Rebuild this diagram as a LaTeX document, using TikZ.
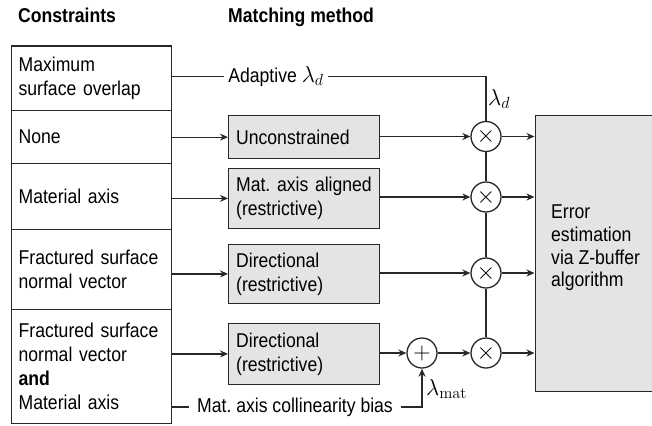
\RequirePackage{fix-cm}
\documentclass[tikz,border=0pt]{standalone}
\usepackage[no-math]{fontspec}
\setmainfont{Liberation Sans}[FakeStretch=0.88]
\usetikzlibrary{arrows.meta,calc}
\definecolor{linec}{RGB}{40,40,40}
\definecolor{boxfill}{RGB}{228,228,228}
\frenchspacing
\newcommand{\bigmath}[1]{{\fontsize{23}{24}\selectfont$#1$}}
\begin{document}
\begin{tikzpicture}[x=1pt,y=-1pt,
  font=\fontsize{20}{24}\selectfont,
  row/.style={draw=linec, line width=1.3pt, anchor=north west, minimum width=158pt,
    text width=145pt, inner xsep=7.5pt, inner ysep=0pt, align=left},
  mbox/.style={draw=linec, fill=boxfill, line width=1.3pt, anchor=north west,
    minimum width=149pt, text width=136pt, inner xsep=7.5pt, inner ysep=0pt, align=left},
  op/.style={circle, draw=linec, fill=white, line width=1.3pt, minimum size=30pt,
    inner sep=0pt, font=\fontsize{24}{24}\selectfont},
  conn/.style={draw=linec, line width=1.3pt},
  arr/.style={conn, -{Stealth[length=8pt,width=7pt]}},
  lbl/.style={inner sep=0pt}
]
\useasboundingbox (0,0) rectangle (652,425);

% headers
\node[lbl, anchor=base west] (h1) at (18,22.7) {\bfseries Constraints};
\node[lbl, anchor=base west] (h2) at (228,22.7) {\bfseries Matching method};

% constraint rows
\node[row, minimum height=64pt]   (rMax)  at (10.5,45.5)  {Maximum\\surface overlap};
\node[row, minimum height=53.5pt] (rNone) at (10.5,109.5) {None};
\node[row, minimum height=65.5pt] (rMat)  at (10.5,163)   {Material axis};
\node[row, minimum height=80.5pt] (rFrac) at (10.5,228.5) {Fractured surface\\normal vector};
\node[row, minimum height=114pt]  (rBoth) at (10.5,309)   {Fractured surface\\normal vector\\\textbf{and}\\Material axis};

% matching method boxes
\node[mbox, minimum height=43pt]   (unc)  at (228,115)   {Unconstrained};
\node[mbox, minimum height=59.5pt] (mat)  at (228,168)   {Mat.~axis~aligned\\(restrictive)};
\node[mbox, minimum height=59.5pt] (dir1) at (228,243.5) {Directional\\(restrictive)};
\node[mbox, minimum height=61.5pt] (dir2) at (228,322.5) {Directional\\(restrictive)};

% error box
\node[draw=linec, fill=boxfill, line width=1.3pt, anchor=north west,
  minimum width=118pt, minimum height=276pt, inner sep=0pt] (err) at (534.5,114.5) {};
\node[lbl, anchor=west, align=left, font=\fontsize{20}{22.6}\selectfont] (errt) at (551,248)
  {Error\\estimation\\via Z-buffer\\algorithm};

% operators
\node[op] (m1) at (486,136.5) {$\times$};
\node[op] (m2) at (486,197)   {$\times$};
\node[op] (m3) at (486,273)   {$\times$};
\node[op] (m4) at (486,353)   {$\times$};
\node[op] (pl) at (422,353)   {$+$};

% labels on connectors
\node[inner xsep=4pt, inner ysep=0pt] (ad) at (276,76.5) {Adaptive \bigmath{\lambda_d}};
\node[lbl, anchor=west] (ld) at (488,99) {\bigmath{\lambda_d}};
\node[inner xsep=8pt, inner ysep=0pt] (bias) at (295,407) {Mat. axis collinearity bias};
\node[lbl, anchor=west] (lm) at (426,389) {\bigmath{\lambda_{\mathrm{mat}}}};

% connectors
\draw[conn] (rMax.east |- ad.west) -- (ad.west);
\draw[conn] (ad.east) -| (m1.north);
\draw[conn] (m1.south) -- (m2.north);
\draw[conn] (m2.south) -- (m3.north);
\draw[conn] (m3.south) -- (m4.north);

\draw[arr] (rNone.east |- unc.west) -- (unc.west);
\draw[arr] (rMat.east |- mat.west) -- (mat.west);
\draw[arr] (rFrac.east |- dir1.west) -- (dir1.west);
\draw[arr] (rBoth.east |- dir2.west) -- (dir2.west);

\draw[arr] (unc.east |- m1.west) -- (m1.west);
\draw[arr] (mat.east |- m2.west) -- (m2.west);
\draw[arr] (dir1.east |- m3.west) -- (m3.west);
\draw[arr] (dir2.east |- pl.west) -- (pl.west);
\draw[arr] (pl.east) -- (m4.west);

\draw[arr] (m1.east) -- (m1.east -| err.west);
\draw[arr] (m2.east) -- (m2.east -| err.west);
\draw[arr] (m3.east) -- (m3.east -| err.west);
\draw[arr] (m4.east) -- (m4.east -| err.west);

\draw[conn] (rBoth.east |- bias.west) -- (bias.west);
\draw[arr] (bias.east) -| (pl.south);
\end{tikzpicture}
\end{document}
